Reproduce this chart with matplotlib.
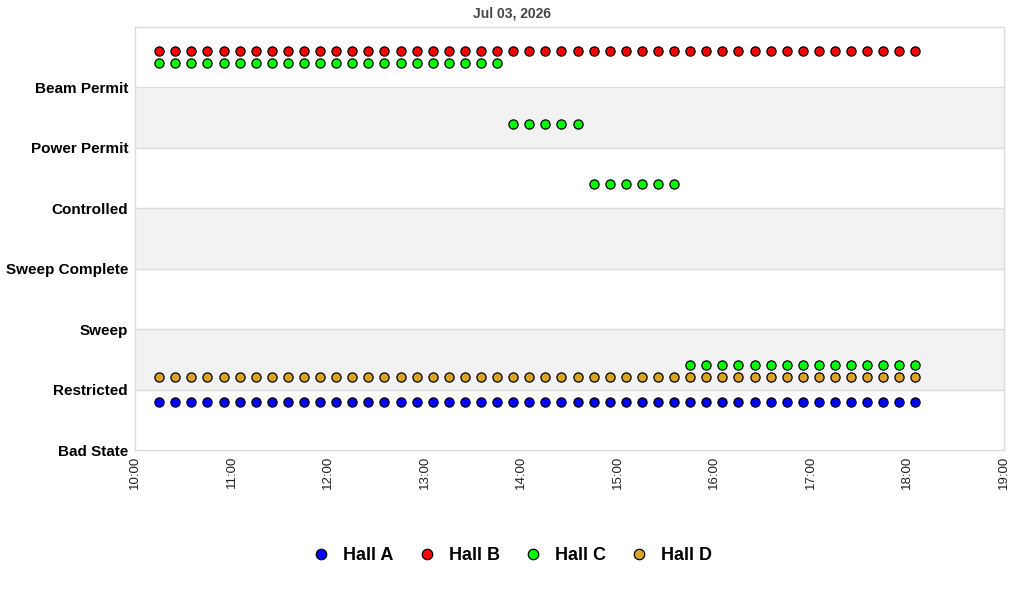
import matplotlib
matplotlib.use("Agg")
import matplotlib.pyplot as plt
import matplotlib.dates as mdates
from matplotlib.lines import Line2D
import pandas as pd

plt.rcParams['font.family'] = ['Liberation Sans', 'DejaVu Sans']

title = "Jul 03, 2026"
date = "2026-07-03"
categories = ["Bad State", "Restricted", "Sweep", "Sweep Complete",
              "Controlled", "Power Permit", "Beam Permit"]

times = ["10:15", "10:25", "10:35", "10:45", "10:55", "11:05", "11:15", "11:25",
         "11:35", "11:45", "11:55", "12:05", "12:15", "12:25", "12:35", "12:45",
         "12:55", "13:05", "13:15", "13:25", "13:35", "13:45", "13:55", "14:05",
         "14:15", "14:25", "14:35", "14:45", "14:55", "15:05", "15:15", "15:25",
         "15:35", "15:45", "15:55", "16:05", "16:15", "16:25", "16:35", "16:45",
         "16:55", "17:05", "17:15", "17:25", "17:35", "17:45", "17:55", "18:05"]

hall_a = ["Restricted"] * 48
hall_b = ["Beam Permit"] * 48
hall_c = (["Beam Permit"] * 22 + ["Power Permit"] * 5 +
          ["Controlled"] * 6 + ["Restricted"] * 15)
hall_d = ["Restricted"] * 48

series_names = ["Hall A", "Hall B", "Hall C", "Hall D"]
series_data = [hall_a, hall_b, hall_c, hall_d]
colors = ["#0000ff", "#ff0000", "#00ff00", "#daa520"]
offsets = [-0.2, 0.6, 0.4, 0.2]

x = pd.to_datetime([f"{date} {t}" for t in times])

fig = plt.figure(figsize=(10.24, 6.0), dpi=100)
ax = fig.add_axes([135/1024, 1 - 450/600, (1004 - 135)/1024, (450 - 27)/600])

# alternating bands
for lo in (1, 3, 5):
    ax.axhspan(lo, lo + 1, color="#f2f2f2", zorder=0, lw=0)
for yv in range(1, 7):
    ax.axhline(yv, color="#dcdcdc", lw=1, zorder=1)

for name, data, c, off in zip(series_names, series_data, colors, offsets):
    yv = [categories.index(s) + off for s in data]
    ax.plot(x, yv, linestyle="none", marker="o", markersize=6.6,
            markerfacecolor=c, markeredgecolor="black", markeredgewidth=0.9,
            zorder=3, label=name)

ax.set_ylim(0, 7)
ax.set_yticks(range(len(categories)))
ax.set_yticklabels(categories, fontsize=11, fontweight="bold", color="black")
ax.set_xlim(pd.Timestamp(f"{date} 10:00"), pd.Timestamp(f"{date} 19:00"))
ax.xaxis.set_major_locator(mdates.HourLocator())
ax.xaxis.set_major_formatter(mdates.DateFormatter("%H:%M"))
ax.tick_params(axis="x", labelrotation=90, labelsize=9.5, labelcolor="#222222",
               length=0, pad=4)
ax.tick_params(axis="y", length=0, pad=5)
for sp in ax.spines.values():
    sp.set_color("#dcdcdc")
    sp.set_linewidth(1)

fig.text(0.5, 1 - 13/600, title, ha="center", va="center", fontsize=10,
         fontweight="bold", color="#444444")

handles = [Line2D([], [], linestyle="none", marker="o", markersize=7.5,
                  markerfacecolor=c, markeredgecolor="black", markeredgewidth=0.9)
           for c in colors]
fig.legend(handles, series_names, loc="center", bbox_to_anchor=(0.5, 1 - 556/600),
           ncol=4, frameon=False, prop={"size": 13, "weight": "bold"},
           handlelength=1.0, handletextpad=0.7, columnspacing=1.35)

fig.savefig("out.png", dpi=100)
